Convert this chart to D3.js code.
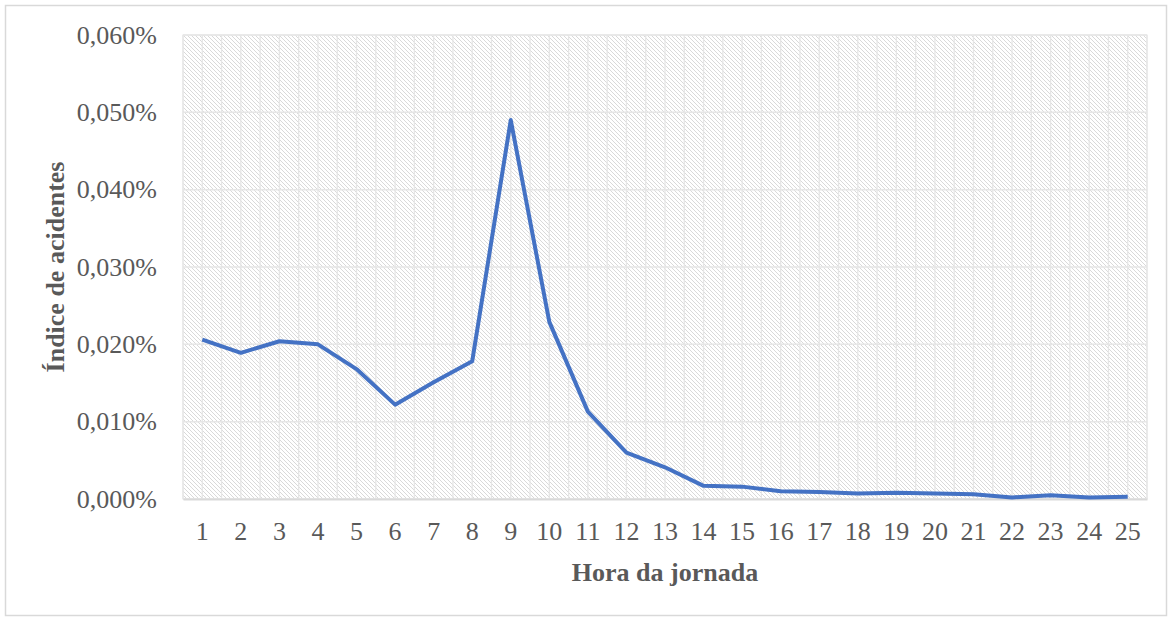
<!DOCTYPE html>
<html>
<head>
<meta charset="utf-8">
<script src="https://cdn.jsdelivr.net/npm/d3@7"></script>
<style>
  body { margin: 0; background: #fff; }
  text { font-family: "Liberation Serif", "Times New Roman", serif; fill: #595959; }
</style>
</head>
<body>
<svg width="1169" height="617"></svg>
<script>
// hora da jornada e índice de acidentes (%)
let horas = d3.range(1, 26);
let indice = [0.0206, 0.0189, 0.0204, 0.0200, 0.0168, 0.0122, 0.0151, 0.0178, 0.0490, 0.0229,
              0.0113, 0.0060, 0.0041, 0.0017, 0.0016, 0.0010, 0.0009, 0.0007, 0.0008, 0.0007,
              0.0006, 0.0002, 0.0005, 0.0002, 0.0003];
let yTicks = [0, 0.01, 0.02, 0.03, 0.04, 0.05, 0.06];

let svg = d3.select("svg");

svg.append("rect")
  .attr("x", 5.5).attr("y", 5.5)
  .attr("width", 1161).attr("height", 610)
  .attr("fill", "#fff")
  .attr("stroke", "#d9d9d9")
  .attr("stroke-width", 1.5);

let pLeft = 183, pRight = 1147, pTop = 35, pBottom = 499;

let xScale = d3.scaleBand().domain(horas).range([pLeft, pRight]);
let yScale = d3.scaleLinear().domain([0, 0.06]).range([pBottom, pTop]);

// hatch pattern
let defs = svg.append("defs");
let pat = defs.append("pattern")
  .attr("id", "hatch")
  .attr("patternUnits", "userSpaceOnUse")
  .attr("width", 4).attr("height", 4);
pat.append("rect").attr("width", 4).attr("height", 4).attr("fill", "#fff");
pat.append("path")
  .attr("d", "M-1,-1 L5,5 M-1,3 L1,5 M3,-1 L5,1")
  .attr("stroke", "#d9d9d9")
  .attr("stroke-width", 1);

svg.append("rect")
  .attr("x", pLeft).attr("y", pTop)
  .attr("width", pRight - pLeft).attr("height", pBottom - pTop)
  .attr("fill", "url(#hatch)")
  .attr("stroke", "#e3e3e3");

// vertical gridlines at boundaries and centres
let g = svg.append("g");
let vLines = [];
horas.forEach(h => {
  vLines.push(xScale(h));
  vLines.push(xScale(h) + xScale.bandwidth() / 2);
});
vLines.push(pRight);
g.selectAll(".vgrid").data(vLines).enter().append("line")
  .attr("x1", d => d).attr("x2", d => d)
  .attr("y1", pTop).attr("y2", pBottom)
  .attr("stroke", "#e6e6e6").attr("stroke-width", 1.3);

g.selectAll(".hgrid").data(yTicks).enter().append("line")
  .attr("x1", pLeft).attr("x2", pRight)
  .attr("y1", d => yScale(d)).attr("y2", d => yScale(d))
  .attr("stroke", "#e6e6e6").attr("stroke-width", 1.5);

// axes
let fmt = d => d3.format(".3f")(d).replace(".", ",") + "%";
let yAxis = svg.append("g")
  .attr("transform", "translate(" + pLeft + ",0)")
  .call(d3.axisLeft(yScale).tickValues(yTicks).tickFormat(fmt).tickSize(0).tickPadding(26));
yAxis.select(".domain").remove();
yAxis.selectAll("text").style("font-size", "26px").attr("fill", "#595959");

let xAxis = svg.append("g")
  .attr("transform", "translate(0," + pBottom + ")")
  .call(d3.axisBottom(xScale).tickSize(0).tickPadding(23));
xAxis.select(".domain").attr("stroke", "#d9d9d9").attr("stroke-width", 2);
xAxis.selectAll("text").style("font-size", "26px").attr("fill", "#595959");

// line
let line = d3.line()
  .x((d, i) => xScale(horas[i]) + xScale.bandwidth() / 2)
  .y(d => yScale(d));

svg.append("path")
  .datum(indice)
  .attr("d", line)
  .attr("fill", "none")
  .attr("stroke", "#4472c4")
  .attr("stroke-width", 4)
  .attr("stroke-linejoin", "round");

// titles
svg.append("text")
  .attr("x", (pLeft + pRight) / 2).attr("y", 581)
  .attr("text-anchor", "middle")
  .style("font-size", "26px").style("font-weight", "bold")
  .text("Hora da jornada");

svg.append("text")
  .attr("transform", "translate(64," + (pTop + pBottom) / 2 + ") rotate(-90)")
  .attr("text-anchor", "middle")
  .style("font-size", "26px").style("font-weight", "bold")
  .text("Índice de acidentes");
</script>
</body>
</html>
